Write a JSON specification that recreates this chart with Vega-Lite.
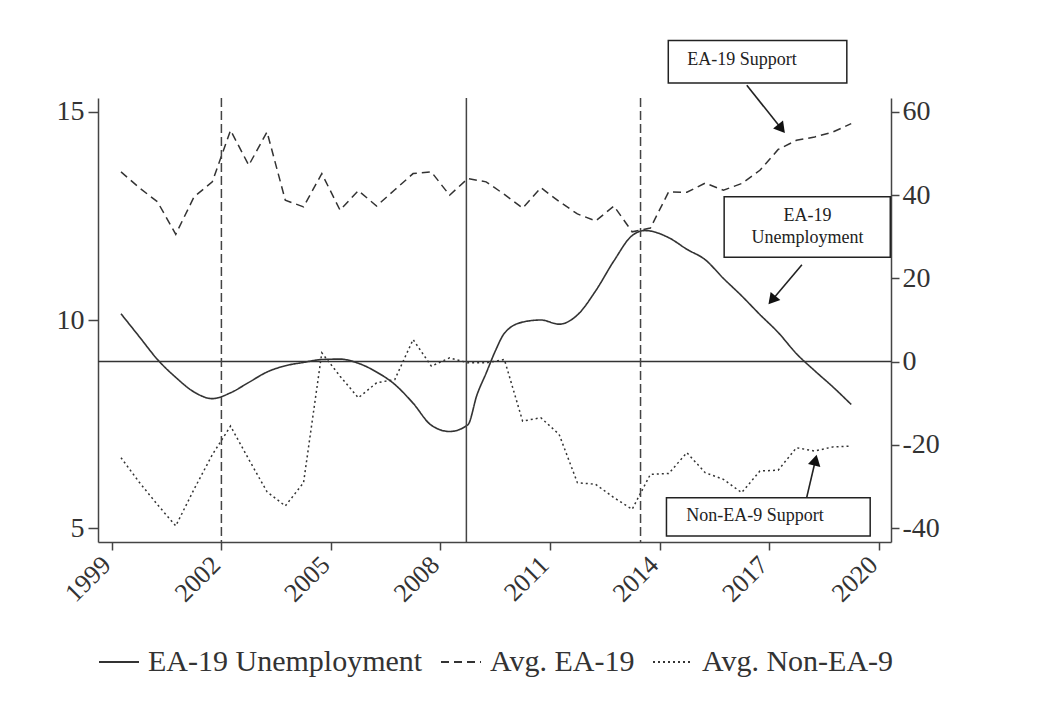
{
  "$schema": "https://vega.github.io/schema/vega-lite/v6.json",
  "width": 793,
  "height": 444,
  "autosize": {"type": "none"},
  "padding": {"left": 98, "top": 98, "right": 164, "bottom": 160},
  "background": "white",
  "config": {
    "view": {"stroke": null},
    "font": "Liberation Serif",
    "axis": {
      "domainColor": "#444", "domainWidth": 1.5, "tickColor": "#444", "tickWidth": 1.5, "tickSize": 8,
      "labelFont": "Liberation Serif", "labelFontSize": 28, "labelColor": "#333", "grid": false, "labelPadding": 3
    },
    "axisLeft": {"tickSize": 10, "labelPadding": 4},
    "axisX": {"labelFontSize": 26},
    "legend": {
      "orient": "bottom", "direction": "horizontal", "symbolType": "stroke", "symbolSize": 1600,
      "symbolStrokeWidth": 2, "symbolStrokeColor": "#333", "labelFont": "Liberation Serif", "labelFontSize": 30,
      "labelColor": "#333", "labelLimit": 500, "columnPadding": 14, "labelOffset": 8, "offset": 34
    }
  },
  "datasets": {
    "series": [
      {"series": "EA-19 Unemployment", "year": 1999.25, "value": 10.15},
      {"series": "EA-19 Unemployment", "year": 1999.75, "value": 9.6},
      {"series": "EA-19 Unemployment", "year": 2000.25, "value": 9.05},
      {"series": "EA-19 Unemployment", "year": 2000.75, "value": 8.62},
      {"series": "EA-19 Unemployment", "year": 2001.25, "value": 8.27},
      {"series": "EA-19 Unemployment", "year": 2001.75, "value": 8.11},
      {"series": "EA-19 Unemployment", "year": 2002.25, "value": 8.25},
      {"series": "EA-19 Unemployment", "year": 2002.75, "value": 8.5},
      {"series": "EA-19 Unemployment", "year": 2003.25, "value": 8.75},
      {"series": "EA-19 Unemployment", "year": 2003.75, "value": 8.9},
      {"series": "EA-19 Unemployment", "year": 2004.25, "value": 8.98},
      {"series": "EA-19 Unemployment", "year": 2004.75, "value": 9.05},
      {"series": "EA-19 Unemployment", "year": 2005.25, "value": 9.06},
      {"series": "EA-19 Unemployment", "year": 2005.75, "value": 8.96},
      {"series": "EA-19 Unemployment", "year": 2006.25, "value": 8.75},
      {"series": "EA-19 Unemployment", "year": 2006.75, "value": 8.45},
      {"series": "EA-19 Unemployment", "year": 2007.25, "value": 8.0},
      {"series": "EA-19 Unemployment", "year": 2007.75, "value": 7.47},
      {"series": "EA-19 Unemployment", "year": 2008.25, "value": 7.32},
      {"series": "EA-19 Unemployment", "year": 2008.75, "value": 7.48},
      {"series": "EA-19 Unemployment", "year": 2009.0, "value": 8.2},
      {"series": "EA-19 Unemployment", "year": 2009.25, "value": 8.72},
      {"series": "EA-19 Unemployment", "year": 2009.5, "value": 9.25},
      {"series": "EA-19 Unemployment", "year": 2009.75, "value": 9.68},
      {"series": "EA-19 Unemployment", "year": 2010.25, "value": 9.95},
      {"series": "EA-19 Unemployment", "year": 2010.75, "value": 10.0},
      {"series": "EA-19 Unemployment", "year": 2011.25, "value": 9.9},
      {"series": "EA-19 Unemployment", "year": 2011.75, "value": 10.12},
      {"series": "EA-19 Unemployment", "year": 2012.25, "value": 10.7},
      {"series": "EA-19 Unemployment", "year": 2012.75, "value": 11.42},
      {"series": "EA-19 Unemployment", "year": 2013.25, "value": 12.03},
      {"series": "EA-19 Unemployment", "year": 2013.6, "value": 12.15},
      {"series": "EA-19 Unemployment", "year": 2014.25, "value": 11.98},
      {"series": "EA-19 Unemployment", "year": 2014.75, "value": 11.7},
      {"series": "EA-19 Unemployment", "year": 2015.25, "value": 11.45},
      {"series": "EA-19 Unemployment", "year": 2015.75, "value": 11.0},
      {"series": "EA-19 Unemployment", "year": 2016.25, "value": 10.58},
      {"series": "EA-19 Unemployment", "year": 2016.75, "value": 10.13},
      {"series": "EA-19 Unemployment", "year": 2017.25, "value": 9.7},
      {"series": "EA-19 Unemployment", "year": 2017.75, "value": 9.19},
      {"series": "EA-19 Unemployment", "year": 2018.25, "value": 8.78},
      {"series": "EA-19 Unemployment", "year": 2018.75, "value": 8.39},
      {"series": "EA-19 Unemployment", "year": 2019.25, "value": 7.97},

      {"series": "Avg. EA-19", "year": 1999.25, "value": 45.6},
      {"series": "Avg. EA-19", "year": 1999.75, "value": 41.8},
      {"series": "Avg. EA-19", "year": 2000.25, "value": 38.4},
      {"series": "Avg. EA-19", "year": 2000.75, "value": 30.6},
      {"series": "Avg. EA-19", "year": 2001.25, "value": 39.6},
      {"series": "Avg. EA-19", "year": 2001.75, "value": 43.2},
      {"series": "Avg. EA-19", "year": 2002.25, "value": 55.6},
      {"series": "Avg. EA-19", "year": 2002.75, "value": 47.2},
      {"series": "Avg. EA-19", "year": 2003.25, "value": 55.2},
      {"series": "Avg. EA-19", "year": 2003.75, "value": 38.8},
      {"series": "Avg. EA-19", "year": 2004.25, "value": 37.2},
      {"series": "Avg. EA-19", "year": 2004.75, "value": 45.2},
      {"series": "Avg. EA-19", "year": 2005.25, "value": 36.4},
      {"series": "Avg. EA-19", "year": 2005.75, "value": 41.1},
      {"series": "Avg. EA-19", "year": 2006.25, "value": 37.4},
      {"series": "Avg. EA-19", "year": 2006.75, "value": 41.3},
      {"series": "Avg. EA-19", "year": 2007.25, "value": 45.2},
      {"series": "Avg. EA-19", "year": 2007.75, "value": 45.6},
      {"series": "Avg. EA-19", "year": 2008.25, "value": 40.0},
      {"series": "Avg. EA-19", "year": 2008.75, "value": 44.0},
      {"series": "Avg. EA-19", "year": 2009.25, "value": 43.2},
      {"series": "Avg. EA-19", "year": 2009.75, "value": 40.2},
      {"series": "Avg. EA-19", "year": 2010.25, "value": 36.9},
      {"series": "Avg. EA-19", "year": 2010.75, "value": 41.8},
      {"series": "Avg. EA-19", "year": 2011.25, "value": 38.5},
      {"series": "Avg. EA-19", "year": 2011.75, "value": 35.5},
      {"series": "Avg. EA-19", "year": 2012.25, "value": 33.8},
      {"series": "Avg. EA-19", "year": 2012.75, "value": 37.4},
      {"series": "Avg. EA-19", "year": 2013.25, "value": 31.2},
      {"series": "Avg. EA-19", "year": 2013.75, "value": 32.1},
      {"series": "Avg. EA-19", "year": 2014.25, "value": 40.8},
      {"series": "Avg. EA-19", "year": 2014.75, "value": 40.7},
      {"series": "Avg. EA-19", "year": 2015.25, "value": 42.9},
      {"series": "Avg. EA-19", "year": 2015.75, "value": 41.2},
      {"series": "Avg. EA-19", "year": 2016.25, "value": 42.8},
      {"series": "Avg. EA-19", "year": 2016.75, "value": 46.0},
      {"series": "Avg. EA-19", "year": 2017.25, "value": 51.0},
      {"series": "Avg. EA-19", "year": 2017.75, "value": 53.2},
      {"series": "Avg. EA-19", "year": 2018.25, "value": 54.0},
      {"series": "Avg. EA-19", "year": 2018.75, "value": 55.2},
      {"series": "Avg. EA-19", "year": 2019.25, "value": 57.2},

      {"series": "Avg. Non-EA-9", "year": 1999.25, "value": -23.1},
      {"series": "Avg. Non-EA-9", "year": 1999.75, "value": -29.0},
      {"series": "Avg. Non-EA-9", "year": 2000.25, "value": -34.4},
      {"series": "Avg. Non-EA-9", "year": 2000.75, "value": -39.5},
      {"series": "Avg. Non-EA-9", "year": 2001.25, "value": -30.7},
      {"series": "Avg. Non-EA-9", "year": 2001.75, "value": -22.4},
      {"series": "Avg. Non-EA-9", "year": 2002.25, "value": -15.5},
      {"series": "Avg. Non-EA-9", "year": 2002.75, "value": -23.5},
      {"series": "Avg. Non-EA-9", "year": 2003.25, "value": -31.3},
      {"series": "Avg. Non-EA-9", "year": 2003.75, "value": -34.7},
      {"series": "Avg. Non-EA-9", "year": 2004.25, "value": -29.1},
      {"series": "Avg. Non-EA-9", "year": 2004.75, "value": 2.1},
      {"series": "Avg. Non-EA-9", "year": 2005.25, "value": -3.5},
      {"series": "Avg. Non-EA-9", "year": 2005.75, "value": -8.7},
      {"series": "Avg. Non-EA-9", "year": 2006.25, "value": -5.1},
      {"series": "Avg. Non-EA-9", "year": 2006.75, "value": -4.3},
      {"series": "Avg. Non-EA-9", "year": 2007.25, "value": 5.3},
      {"series": "Avg. Non-EA-9", "year": 2007.75, "value": -1.1},
      {"series": "Avg. Non-EA-9", "year": 2008.25, "value": 0.9},
      {"series": "Avg. Non-EA-9", "year": 2008.75, "value": -0.3},
      {"series": "Avg. Non-EA-9", "year": 2009.25, "value": -0.3},
      {"series": "Avg. Non-EA-9", "year": 2009.75, "value": 0.5},
      {"series": "Avg. Non-EA-9", "year": 2010.25, "value": -14.3},
      {"series": "Avg. Non-EA-9", "year": 2010.75, "value": -13.5},
      {"series": "Avg. Non-EA-9", "year": 2011.25, "value": -17.5},
      {"series": "Avg. Non-EA-9", "year": 2011.75, "value": -29.1},
      {"series": "Avg. Non-EA-9", "year": 2012.25, "value": -29.5},
      {"series": "Avg. Non-EA-9", "year": 2012.75, "value": -32.7},
      {"series": "Avg. Non-EA-9", "year": 2013.25, "value": -35.5},
      {"series": "Avg. Non-EA-9", "year": 2013.75, "value": -27.1},
      {"series": "Avg. Non-EA-9", "year": 2014.25, "value": -26.9},
      {"series": "Avg. Non-EA-9", "year": 2014.75, "value": -21.9},
      {"series": "Avg. Non-EA-9", "year": 2015.25, "value": -26.7},
      {"series": "Avg. Non-EA-9", "year": 2015.75, "value": -28.3},
      {"series": "Avg. Non-EA-9", "year": 2016.25, "value": -31.5},
      {"series": "Avg. Non-EA-9", "year": 2016.75, "value": -26.3},
      {"series": "Avg. Non-EA-9", "year": 2017.25, "value": -26.1},
      {"series": "Avg. Non-EA-9", "year": 2017.75, "value": -20.7},
      {"series": "Avg. Non-EA-9", "year": 2018.25, "value": -21.5},
      {"series": "Avg. Non-EA-9", "year": 2018.75, "value": -20.5},
      {"series": "Avg. Non-EA-9", "year": 2019.25, "value": -20.3}
    ],
    "boxes": [
      {"x1": 2014.24, "x2": 2019.13, "y1": 77.2, "y2": 67.0},
      {"x1": 2015.77, "x2": 2020.32, "y1": 39.6, "y2": 25.1},
      {"x1": 2014.19, "x2": 2019.77, "y1": -32.7, "y2": -41.9}
    ],
    "labelsLeft": [
      {"text": "EA-19 Support", "x": 2014.76, "y": 72.4},
      {"text": "Non-EA-9 Support", "x": 2014.73, "y": -37.2}
    ],
    "labelsCenter": [
      {"text": "EA-19", "x": 2018.05, "y": 35.0},
      {"text": "Unemployment", "x": 2018.05, "y": 29.8}
    ],
    "arrows": [
      {"id": "a", "x1": 2016.39, "y1": 66.43, "x2": 2017.34, "y2": 55.97},
      {"id": "b", "x1": 2017.90, "y1": 23.26, "x2": 2017.08, "y2": 14.77},
      {"id": "c", "x1": 2018.03, "y1": -32.69, "x2": 2018.27, "y2": -23.70}
    ]
  },
  "layer": [
    {
      "data": {"name": "series"},
      "transform": [{"filter": "datum.series === 'EA-19 Unemployment'"}],
      "mark": {"type": "line", "interpolate": "monotone", "color": "#333", "strokeWidth": 1.6},
      "encoding": {
        "x": {"field": "year", "type": "quantitative", "title": null,
          "scale": {"domain": [1998.62, 2020.34], "nice": false, "zero": false},
          "axis": {"values": [1999, 2002, 2005, 2008, 2011, 2014, 2017, 2020], "format": "d", "labelAngle": -45,
            "labelAlign": "right", "labelBaseline": "alphabetic", "labelPadding": 16, "title": null}},
        "y": {"field": "value", "type": "quantitative", "title": null,
          "scale": {"domain": [4.6635, 15.3365], "nice": false, "zero": false},
          "axis": {"orient": "left", "values": [5, 10, 15], "title": null}},
        "strokeDash": {"field": "series", "type": "nominal",
          "scale": {"domain": ["EA-19 Unemployment", "Avg. EA-19", "Avg. Non-EA-9"], "range": [[1, 0], [8, 5], [2, 3]]},
          "legend": {"title": null}}
      }
    },
    {
      "layer": [
        {
          "data": {"name": "series"},
          "transform": [{"filter": "datum.series !== 'EA-19 Unemployment'"}],
          "mark": {"type": "line", "color": "#333", "strokeWidth": 1.5},
          "encoding": {
            "x": {"field": "year", "type": "quantitative", "title": null},
            "y": {"field": "value", "type": "quantitative", "title": null,
              "scale": {"domain": [-43.365, 63.365], "nice": false, "zero": false},
              "axis": {"orient": "right", "values": [-40, -20, 0, 20, 40, 60], "title": null,
                "labelExpr": "datum.value < 0 ? '-' + abs(datum.value) : '' + datum.value"}},
            "strokeDash": {"field": "series", "type": "nominal",
              "scale": {"domain": ["EA-19 Unemployment", "Avg. EA-19", "Avg. Non-EA-9"], "range": [[1, 0], [8, 5], [2, 3]]},
              "legend": {"title": null}}
          }
        },
        {
          "data": {"values": [{}]},
          "mark": {"type": "rule", "color": "#333", "strokeWidth": 1.5},
          "encoding": {"y": {"datum": 0, "type": "quantitative", "title": null}}
        },
        {
          "data": {"values": [{}]},
          "mark": {"type": "rule", "color": "#444", "strokeWidth": 1.5, "strokeDash": [9, 4]},
          "encoding": {"x": {"datum": 2002, "type": "quantitative", "title": null}}
        },
        {
          "data": {"values": [{}]},
          "mark": {"type": "rule", "color": "#444", "strokeWidth": 1.5, "strokeDash": [9, 4]},
          "encoding": {"x": {"datum": 2013.48, "type": "quantitative", "title": null}}
        },
        {
          "data": {"values": [{}]},
          "mark": {"type": "rule", "color": "#444", "strokeWidth": 1.5},
          "encoding": {"x": {"datum": 2008.71, "type": "quantitative", "title": null}}
        },
        {
          "data": {"name": "boxes"},
          "mark": {"type": "rect", "fill": "white", "stroke": "#222", "strokeWidth": 1.5},
          "encoding": {
            "x": {"field": "x1", "type": "quantitative", "title": null},
            "x2": {"field": "x2"},
            "y": {"field": "y1", "type": "quantitative", "title": null},
            "y2": {"field": "y2"}
          }
        },
        {
          "data": {"name": "labelsLeft"},
          "mark": {"type": "text", "align": "left", "baseline": "middle", "font": "Liberation Serif", "fontSize": 18, "color": "#222"},
          "encoding": {
            "x": {"field": "x", "type": "quantitative", "title": null},
            "y": {"field": "y", "type": "quantitative", "title": null},
            "text": {"field": "text"}
          }
        },
        {
          "data": {"name": "labelsCenter"},
          "mark": {"type": "text", "align": "center", "baseline": "middle", "font": "Liberation Serif", "fontSize": 18, "color": "#222"},
          "encoding": {
            "x": {"field": "x", "type": "quantitative", "title": null},
            "y": {"field": "y", "type": "quantitative", "title": null},
            "text": {"field": "text"}
          }
        },
        {
          "data": {"name": "arrows"},
          "mark": {"type": "rule", "color": "#222", "strokeWidth": 1.6},
          "encoding": {
            "x": {"field": "x1", "type": "quantitative", "title": null},
            "x2": {"field": "x2"},
            "y": {"field": "y1", "type": "quantitative", "title": null},
            "y2": {"field": "y2"}
          }
        },
        {
          "data": {"name": "arrows"},
          "transform": [{"filter": "datum.id === 'a'"}],
          "mark": {"type": "point", "shape": "triangle-up", "filled": true, "color": "#111", "size": 160, "opacity": 1, "angle": 141.6},
          "encoding": {
            "x": {"field": "x2", "type": "quantitative", "title": null},
            "y": {"field": "y2", "type": "quantitative", "title": null}
          }
        },
        {
          "data": {"name": "arrows"},
          "transform": [{"filter": "datum.id === 'b'"}],
          "mark": {"type": "point", "shape": "triangle-up", "filled": true, "color": "#111", "size": 160, "opacity": 1, "angle": 219.9},
          "encoding": {
            "x": {"field": "x2", "type": "quantitative", "title": null},
            "y": {"field": "y2", "type": "quantitative", "title": null}
          }
        },
        {
          "data": {"name": "arrows"},
          "transform": [{"filter": "datum.id === 'c'"}],
          "mark": {"type": "point", "shape": "triangle-up", "filled": true, "color": "#111", "size": 160, "opacity": 1, "angle": 13},
          "encoding": {
            "x": {"field": "x2", "type": "quantitative", "title": null},
            "y": {"field": "y2", "type": "quantitative", "title": null}
          }
        }
      ]
    }
  ],
  "resolve": {"scale": {"y": "independent"}}
}
